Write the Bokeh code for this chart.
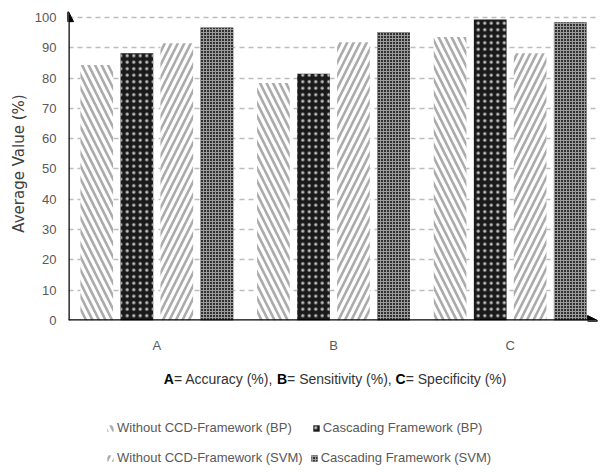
from bokeh.plotting import figure
from bokeh.layouts import column
from bokeh.models import (Range1d, Arrow, NormalHead, Label, Legend, LegendItem,
                          FixedTicker, ColumnDataSource)
from bokeh.transform import dodge
from bokeh.embed import file_html
from bokeh.resources import INLINE

categories = ["A", "B", "C"]
series_names = ["Without CCD-Framework (BP)", "Cascading Framework (BP)",
                "Without CCD-Framework (SVM)", "Cascading Framework (SVM)"]
without_bp = [84.3, 78.4, 93.5]
cascading_bp = [88.2, 81.4, 99.3]
without_svm = [91.5, 91.8, 88.2]
cascading_svm = [96.7, 95.1, 98.4]
y_ticks = [0, 10, 20, 30, 40, 50, 60, 70, 80, 90, 100]
x_title_parts = [("A", "bold"), ("= Accuracy (%), ", "normal"),
                 ("B", "bold"), ("= Sensitivity (%), ", "normal"),
                 ("C", "bold"), ("= Specificity (%)", "normal")]

# category centres on a numeric axis: one unit per category
x_pos = [i + 0.5 for i in range(len(categories))]
src = ColumnDataSource(dict(x=x_pos, cat=categories, s0=without_bp, s1=cascading_bp,
                            s2=without_svm, s3=cascading_svm))

SANS = "Liberation Sans"
LEFT = 68

p = figure(x_range=Range1d(0, 3.0), y_range=Range1d(0, 103.6),
           width=598, height=355, output_backend="svg", toolbar_location=None,
           min_border_left=LEFT, min_border_right=0, min_border_top=6, min_border_bottom=32)
p.outline_line_color = None

offsets = [-0.34, -0.113, 0.113, 0.34]
W = 0.185
styles = [
    dict(fill_color="white", hatch_pattern="left_diagonal_line", hatch_color="#ababab",
         hatch_scale=13, hatch_weight=2.6),
    dict(fill_color="#1a1a1a", hatch_pattern="dot", hatch_color="#c0c0c0",
         hatch_scale=6.5, hatch_weight=0.9),
    dict(fill_color="white", hatch_pattern="right_diagonal_line", hatch_color="#ababab",
         hatch_scale=13, hatch_weight=2.6),
    dict(fill_color="#303030", hatch_pattern="cross", hatch_color="#9c9c9c",
         hatch_scale=3, hatch_weight=1),
]
renderers = []
for i, col in enumerate(["s0", "s1", "s2", "s3"]):
    r = p.vbar(x=dodge("x", offsets[i]), top=col, width=W, source=src,
               line_color=None, **styles[i])
    renderers.append(r)

p.xaxis.ticker = FixedTicker(ticks=x_pos)
p.xaxis.major_label_overrides = {x: c for x, c in zip(x_pos, categories)}
p.yaxis.ticker = FixedTicker(ticks=y_ticks)
for ax in (p.xaxis[0], p.yaxis[0]):
    ax.axis_line_color = None
    ax.major_tick_line_color = None
    ax.minor_tick_line_color = None
    ax.major_tick_out = 0
    ax.major_tick_in = 0
    ax.major_label_text_font = SANS
    ax.major_label_text_font_size = "13px"
    ax.major_label_text_color = "#595959"
p.yaxis.major_label_standoff = 12
p.xaxis.major_label_standoff = 17
p.yaxis.axis_label = "Average Value (%)"
p.yaxis.axis_label_text_font = "DejaVu Sans"
p.yaxis.axis_label_text_font_style = "normal"
p.yaxis.axis_label_text_font_size = "15px"
p.yaxis.axis_label_text_color = "#404040"
p.yaxis.axis_label_standoff = 4

p.xgrid.grid_line_color = None
p.ygrid.grid_line_color = "#bdbdbd"
p.ygrid.grid_line_dash = "5 4"
p.ygrid.grid_line_width = 1.5

# axis arrows
p.add_layout(Arrow(end=NormalHead(size=10, fill_color="black", line_color="black"),
                   x_start=0, y_start=0, x_end=0, y_end=101.9,
                   line_color="black", line_width=2.5))
p.add_layout(Arrow(end=NormalHead(size=10, fill_color="black", line_color="black"),
                   x_start=0, y_start=0, x_end=2.995, y_end=0,
                   line_color="black", line_width=2.5))

# lower panel: x-axis title (with bold letters) and legend; data x = canvas px
q = figure(x_range=Range1d(LEFT, 598), y_range=Range1d(0, 110), width=598, height=110,
           output_backend="svg", toolbar_location=None, x_axis_type=None, y_axis_type=None,
           min_border_left=LEFT, min_border_right=0, min_border_top=0, min_border_bottom=0)
q.outline_line_color = None
q.xgrid.visible = False
q.ygrid.visible = False

title_x = [163.3, 173.4, 276.5, 286.6, 395.1, 405.2]
for (txt, style), xp in zip(x_title_parts, title_x):
    q.add_layout(Label(x=xp, y=87, text=txt, text_font=SANS, text_font_size="14px",
                       text_font_style=style,
                       text_color="black" if style == "bold" else "#333333",
                       text_baseline="middle", text_align="left"))

# off-screen stand-ins so the legend can draw the same hatched swatches
legend_rs = []
for i in range(4):
    legend_rs.append(q.vbar(x=[-10], top=[0], width=1, line_color=None, **styles[i]))

common = dict(orientation="horizontal", label_text_font=SANS, label_text_font_size="13px",
              label_text_color="#595959", glyph_width=8, glyph_height=8, label_height=14,
              label_standoff=3, padding=0, margin=0, border_line_color=None,
              background_fill_alpha=0)
leg1 = Legend(items=[LegendItem(label=series_names[0], renderers=[legend_rs[0]]),
                     LegendItem(label=series_names[1], renderers=[legend_rs[1]])],
              location=(106 - LEFT, 30), spacing=20, **common)
leg2 = Legend(items=[LegendItem(label=series_names[2], renderers=[legend_rs[2]]),
                     LegendItem(label=series_names[3], renderers=[legend_rs[3]])],
              location=(106 - LEFT, 0), spacing=7, **common)
q.add_layout(leg1, "center")
q.add_layout(leg2, "center")

layout = column(p, q, spacing=0)
open("out.html", "w").write(file_html(layout, INLINE))
